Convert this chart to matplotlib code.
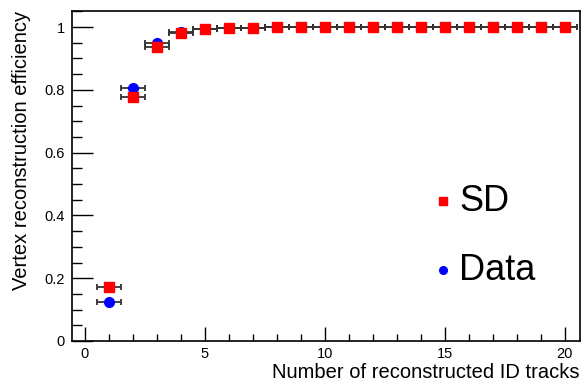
import numpy as np
import matplotlib.pyplot as plt
from matplotlib.ticker import MultipleLocator

plt.rcParams['font.family'] = ['Liberation Sans', 'DejaVu Sans']

# number of reconstructed tracks (bin centres)
ntrk = np.arange(1, 21)
# simulated diffractive (SD)
eff_sd = [0.173, 0.778, 0.937, 0.982, 0.994, 0.998, 0.998, 0.999, 0.999, 0.999,
          0.999, 0.999, 0.999, 0.999, 0.999, 0.999, 0.999, 0.999, 0.999, 0.999]
# data
eff_data = [0.123, 0.806, 0.950, 0.985, 0.995, 0.998, 0.998, 0.999, 0.999, 0.999,
            0.999, 0.999, 0.999, 0.999, 0.999, 0.999, 0.999, 0.999, 0.999, 0.999]
xerr = 0.5

fig = plt.figure(figsize=(5.84, 3.86), dpi=100)
ax = fig.add_axes([72/584, 1 - 341/386, (580-72)/584, (341-11)/386])

ax.errorbar(ntrk, eff_data, xerr=xerr, fmt='o', color='blue', ms=7,
            ecolor='#333333', elinewidth=1.3, capsize=2.5, capthick=1.3, zorder=3)
ax.errorbar(ntrk, eff_sd, xerr=xerr, fmt='s', color='red', ms=7.3,
            ecolor='#333333', elinewidth=1.3, capsize=2.5, capthick=1.3, zorder=4)

ax.set_xlim(-0.54, 20.63)
ax.set_ylim(0, 1.051)

ax.xaxis.set_major_locator(MultipleLocator(5))
ax.xaxis.set_minor_locator(MultipleLocator(1))
ax.yaxis.set_minor_locator(MultipleLocator(0.05))
ax.set_yticks([0, 0.2, 0.4, 0.6, 0.8, 1.0])
ax.set_yticklabels(['0', '0.2', '0.4', '0.6', '0.8', '1'])

ax.tick_params(axis='both', which='both', direction='in', labelsize=10.5,
               color='black', width=1)
ax.tick_params(axis='y', which='major', length=15, pad=5)
ax.tick_params(axis='y', which='minor', length=7)
ax.tick_params(axis='x', which='major', length=10, pad=4)
ax.tick_params(axis='x', which='minor', length=5)
for s in ax.spines.values():
    s.set_linewidth(1.2)

ax.set_xlabel('Number of reconstructed ID tracks', fontsize=14.5, loc='right', labelpad=2)
ax.set_ylabel('Vertex reconstruction efficiency', fontsize=14.5, loc='top', labelpad=10)

# legend drawn as text + markers
ax.plot([14.9], [0.445], 's', color='red', ms=5.5, clip_on=False)
ax.text(15.6, 0.445, 'SD', fontsize=26, va='center', ha='left')
ax.plot([14.9], [0.225], 'o', color='blue', ms=5.5, clip_on=False)
ax.text(15.6, 0.225, 'Data', fontsize=26, va='center', ha='left')

fig.savefig('out.png', dpi=100)
